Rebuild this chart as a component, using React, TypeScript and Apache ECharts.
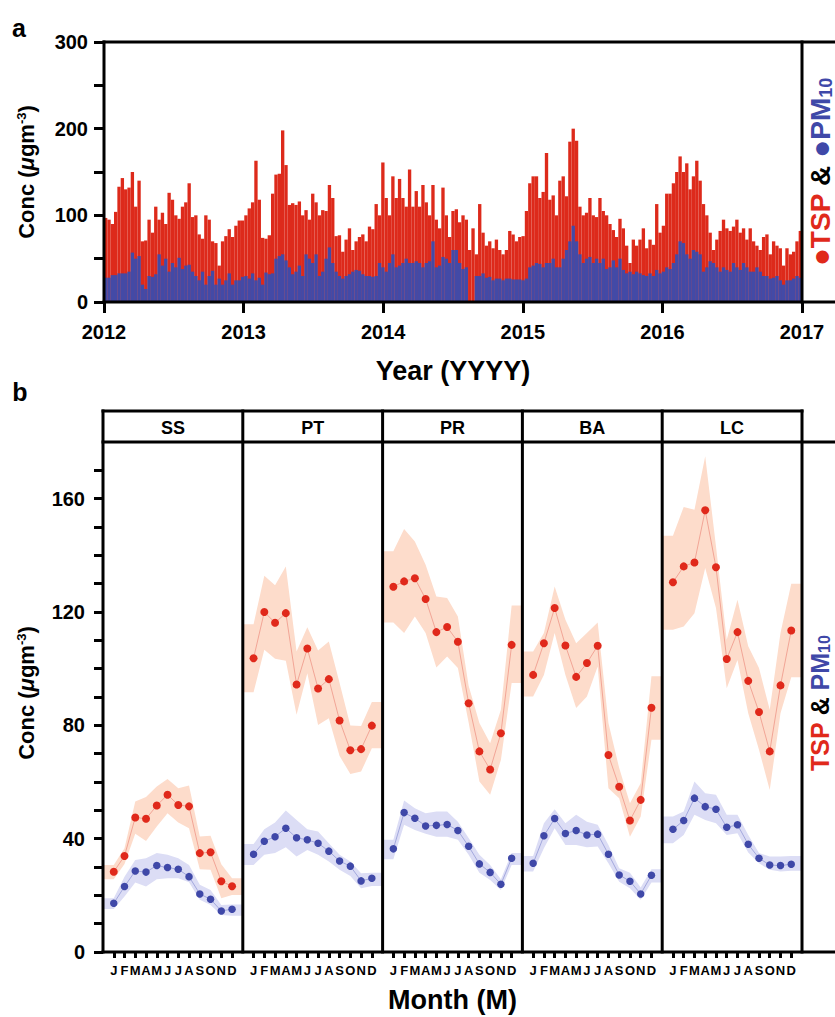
import React, { useEffect, useRef } from "react";
import * as echarts from "echarts";

// ---------- Panel a: TSP & PM10 time series (2012-2016), ~8.7-day samples ----------
const tspSeg1 = [
  97, 95, 90, 104, 133, 143, 130, 132, 150, 110,
  140, 70, 71, 95, 80, 110, 95, 103, 90, 126,
  118, 100, 96, 110, 115, 137, 98, 100, 78, 73,
  100, 95, 70, 68, 42, 70, 76, 84, 75, 88,
  94, 94, 100, 108, 115, 163, 118, 74, 73, 77,
  125, 147, 148, 198, 158, 112, 114, 112, 116, 100,
  106, 95, 125, 115, 100, 106, 105, 135, 120, 76,
  77, 58, 72, 85, 60, 70, 75, 78, 70, 87,
  84, 113, 100, 161, 120, 100, 145, 120, 142,
];
const tspSeg2 = [
  120, 110, 153, 110, 128, 110, 135, 115, 100, 135,
  95, 85, 132, 100, 75, 105, 107, 92, 100, 95,
  60, 85, 55, 113, 80, 65, 70, 62, 72, 60,
  55, 60, 82, 78, 70, 75, 76, 105, 137, 145,
  145, 120, 127, 172, 118, 123, 100, 140, 145, 122,
  185, 200, 186, 110, 100, 103, 120, 100, 98, 120,
  105, 100, 90, 83, 75, 96, 85, 65, 45, 72,
  65, 72, 85, 62, 72, 66, 113, 80, 88, 125,
  125, 137, 150, 168, 150, 160, 130, 145, 163, 140,
  113, 100, 80, 60, 72, 82, 95, 85, 82, 87,
  95, 80, 85, 72, 85, 70, 65, 60, 75, 78,
  55, 70, 65, 62, 42, 62, 55, 58, 70, 82,
];
const pm10Seg1 = [
  28, 28, 31, 31, 33, 33, 33, 35, 57, 50,
  53, 20, 15, 30, 29, 32, 55, 42, 50, 35,
  45, 40, 51, 38, 42, 43, 35, 30, 25, 35,
  20, 30, 36, 20, 27, 20, 25, 33, 20, 25,
  25, 29, 30, 27, 33, 25, 28, 20, 34, 32,
  33, 50, 53, 55, 48, 40, 32, 35, 42, 30,
  55, 50, 45, 55, 30, 35, 50, 63, 45, 35,
  30, 27, 30, 32, 35, 37, 36, 32, 30, 30,
  29, 30, 45, 40, 35, 45, 55, 40, 42,
];
const pm10Seg2 = [
  45, 50, 45, 45, 47, 45, 40, 45, 47, 70,
  40, 42, 52, 50, 45, 60, 60, 45, 38, 40,
  0, 0, 30, 30, 33, 28, 29, 25, 27, 27,
  25, 27, 27, 26, 26, 26, 25, 27, 40, 42,
  45, 44, 40, 45, 45, 50, 40, 40, 50, 60,
  70, 88, 70, 55, 45, 50, 52, 45, 50, 45,
  50, 38, 40, 48, 40, 50, 37, 33, 35, 32,
  35, 33, 31, 30, 33, 30, 37, 33, 35, 40,
  38, 45, 55, 70, 68, 55, 50, 60, 58, 55,
  35, 40, 47, 45, 40, 35, 40, 37, 35, 45,
  40, 37, 45, 40, 35, 35, 40, 35, 30, 30,
  27, 28, 30, 25, 20, 25, 25, 27, 30, 28,
];
const yearStart = 2012;
const yearEnd = 2017;

// ---------- Panel b: monthly means with bands ----------
const monthLetters = ["J", "F", "M", "A", "M", "J", "J", "A", "S", "O", "N", "D"];
const monthNums = [1, 2, 3, 4, 5, 6, 7, 8, 9, 10, 11, 12];
const siteNames = ["SS", "PT", "PR", "BA", "LC"];

const ssTsp = [28.3, 33.9, 47.5, 47.0, 51.7, 55.5, 51.9, 51.4, 34.9, 35.2, 25.0, 23.2];
const ssTspHi = [30.7, 36.6, 53.1, 54.7, 58.4, 61.1, 57.8, 58.8, 40.8, 41.0, 31.0, 26.0];
const ssTspLo = [25.7, 31.1, 41.7, 39.2, 44.3, 49.0, 45.7, 43.7, 29.2, 29.0, 19.0, 20.1];
const ssPm = [17.2, 23.1, 28.6, 28.2, 30.5, 29.8, 29.2, 26.6, 20.5, 18.6, 14.5, 15.1];
const ssPmHi = [19.0, 26.6, 32.5, 33.1, 34.9, 34.3, 33.1, 30.7, 23.7, 21.9, 16.6, 16.8];
const ssPmLo = [15.2, 19.6, 24.5, 23.1, 25.7, 26.0, 26.0, 24.6, 18.4, 16.6, 13.1, 12.8];

const ptTsp = [103.7, 120.0, 116.2, 119.6, 94.4, 107.1, 93.0, 96.3, 81.7, 71.2, 71.6, 79.9];
const ptTspHi = [115.7, 132.8, 129.4, 136.1, 106.1, 114.6, 106.4, 109.6, 94.9, 79.9, 79.8, 88.2];
const ptTspLo = [91.7, 106.7, 103.5, 102.8, 83.7, 98.4, 80.1, 82.5, 69.2, 62.8, 63.7, 71.9];
const ptPm = [34.5, 39.1, 40.7, 43.7, 40.3, 39.6, 38.4, 35.6, 32.1, 30.3, 25.1, 26.0];
const ptPmHi = [38.1, 43.3, 45.7, 49.9, 46.6, 43.3, 42.5, 38.4, 34.3, 31.9, 27.8, 28.0];
const ptPmLo = [30.7, 34.3, 34.9, 37.0, 33.7, 36.0, 34.3, 31.9, 29.0, 26.8, 22.5, 23.3];

const prTsp = [128.9, 130.8, 131.9, 124.6, 112.9, 114.7, 109.5, 87.8, 70.8, 64.4, 77.2, 108.4];
const prTspHi = [141.4, 149.3, 144.9, 136.7, 125.5, 124.9, 118.4, 94.0, 80.8, 73.7, 85.5, 122.3];
const prTspLo = [116.3, 112.6, 118.4, 112.6, 100.4, 104.3, 100.2, 81.0, 60.2, 55.5, 67.8, 94.9];
const prPm = [36.4, 49.2, 47.2, 44.5, 44.7, 45.0, 42.9, 37.3, 31.1, 28.1, 23.9, 33.1];
const prPmHi = [39.6, 53.5, 50.7, 49.0, 49.6, 49.6, 46.0, 40.2, 34.3, 30.7, 25.7, 34.9];
const prPmLo = [32.7, 44.9, 43.1, 41.7, 40.7, 40.7, 39.6, 34.3, 28.0, 25.4, 21.9, 30.7];

const baTsp = [97.8, 109.0, 121.4, 108.2, 97.1, 102.0, 108.1, 69.5, 58.3, 46.4, 53.7, 86.2];
const baTspHi = [106.1, 112.6, 129.0, 117.3, 109.0, 112.6, 116.3, 80.8, 64.9, 52.5, 59.6, 97.3];
const baTspLo = [90.2, 97.8, 112.6, 97.8, 86.1, 90.2, 100.8, 57.8, 54.3, 40.7, 47.8, 74.9];
const baPm = [31.3, 41.0, 47.1, 41.8, 42.9, 41.3, 41.6, 34.5, 27.2, 25.0, 20.5, 27.1];
const baPmHi = [33.9, 45.4, 50.4, 45.4, 48.4, 46.0, 44.9, 37.8, 29.6, 28.0, 22.8, 29.2];
const baPmLo = [28.4, 36.6, 43.7, 37.8, 37.8, 37.0, 37.2, 31.3, 24.8, 22.5, 18.4, 24.5];

const lcTsp = [130.5, 136.1, 137.5, 155.9, 135.8, 103.4, 112.9, 95.7, 84.7, 70.8, 94.1, 113.5];
const lcTspHi = [146.9, 157.1, 156.1, 175.0, 143.2, 110.2, 124.3, 107.9, 100.2, 85.5, 112.6, 130.0];
const lcTspLo = [113.7, 114.9, 119.6, 135.5, 121.4, 93.1, 103.1, 84.3, 71.4, 57.2, 84.3, 97.0];
const lcPm = [43.3, 46.4, 54.3, 51.3, 50.4, 44.0, 44.9, 38.0, 33.1, 30.7, 30.5, 31.0];
const lcPmHi = [47.8, 49.6, 60.2, 56.0, 55.5, 48.4, 48.4, 41.3, 34.9, 33.7, 33.7, 33.9];
const lcPmLo = [38.4, 41.3, 48.4, 46.6, 45.4, 41.3, 41.9, 35.1, 31.3, 29.0, 28.4, 28.7];

const yTicksA = [0, 50, 100, 150, 200, 250, 300];
const yLabelsB = [0, 40, 80, 120, 160];
const yTicksB = [0, 10, 20, 30, 40, 50, 60, 70, 80, 90, 100, 110, 120, 130, 140, 150, 160, 170];

// ---------- styling ----------
const FONT = '"Liberation Sans", Arial, Helvetica, sans-serif';
const RED_BAR = "#DD2A1B";
const BLUE_BAR = "#434AA6";
const RED_PT = "#E0291B";
const BLUE_PT = "#3F48A8";
const RED_LINE = "#F2A596";
const BLUE_LINE = "#A3A8DD";
const RED_BAND = "#FDDCCB";
const BLUE_BAND = "#DCDDF5";

const W = 835;
const H = 1017;
const A = { left: 104, top: 42, right: 802, bottom: 302 };
const B = { left: 103, stripTop: 411, top: 442, right: 802, bottom: 952 };
const PW = (B.right - B.left) / 5;
const X_MIN = 0;
const X_MAX = 13;

export default function App() {
  const ref = useRef<HTMLDivElement>(null);

  useEffect(() => {
    if (!ref.current) return;
    const chart = echarts.init(ref.current, undefined, { renderer: "svg", width: W, height: H });

    const tsp = [...tspSeg1, ...tspSeg2];
    const pm10 = [...pm10Seg1, ...pm10Seg2];
    const cats = tsp.map((_, i) => String(i));

    const sites = [
      { tsp: ssTsp, tspHi: ssTspHi, tspLo: ssTspLo, pm: ssPm, pmHi: ssPmHi, pmLo: ssPmLo },
      { tsp: ptTsp, tspHi: ptTspHi, tspLo: ptTspLo, pm: ptPm, pmHi: ptPmHi, pmLo: ptPmLo },
      { tsp: prTsp, tspHi: prTspHi, tspLo: prTspLo, pm: prPm, pmHi: prPmHi, pmLo: prPmLo },
      { tsp: baTsp, tspHi: baTspHi, tspLo: baTspLo, pm: baPm, pmHi: baPmHi, pmLo: baPmLo },
      { tsp: lcTsp, tspHi: lcTspHi, tspLo: lcTspLo, pm: lcPm, pmHi: lcPmHi, pmLo: lcPmLo },
    ];

    const grids: any[] = [
      { left: A.left, top: A.top, width: A.right - A.left, height: A.bottom - A.top },
    ];
    const xAxes: any[] = [
      { type: "category", gridIndex: 0, data: cats, show: false, boundaryGap: true },
      {
        type: "value", gridIndex: 0, min: yearStart, max: yearEnd, interval: 1, position: "bottom",
        axisLine: { show: false },
        axisTick: { show: true, length: 11, lineStyle: { color: "#000", width: 3 } },
        axisLabel: {
          show: true, color: "#000", fontFamily: FONT, fontWeight: "bold", fontSize: 20, margin: 20,
          formatter: (v: number) => String(v),
        },
        splitLine: { show: false },
      },
    ];
    const yAxes: any[] = [
      {
        type: "value", gridIndex: 0, min: 0, max: 300, interval: 50,
        axisLine: { show: false },
        axisTick: { show: true, length: 10, lineStyle: { color: "#000", width: 3 } },
        axisLabel: {
          color: "#000", fontFamily: FONT, fontWeight: "bold", fontSize: 20, margin: 16,
          formatter: (v: number) => (yTicksA.includes(v) && v % 100 === 0 ? String(v) : ""),
        },
        splitLine: { show: false },
      },
    ];
    const series: any[] = [
      {
        type: "bar", name: "TSP", xAxisIndex: 0, yAxisIndex: 0, data: tsp,
        barCategoryGap: "0%", barGap: "-100%", itemStyle: { color: RED_BAR }, silent: true,
      },
      {
        type: "bar", name: "PM10", xAxisIndex: 0, yAxisIndex: 0, data: pm10,
        barCategoryGap: "0%", barGap: "-100%", itemStyle: { color: BLUE_BAR }, silent: true,
      },
    ];

    const bandX = [X_MIN, ...monthNums, X_MAX];
    const extend = (arr: number[]) => [arr[0], ...arr, arr[arr.length - 1]];

    const bandSeries = (xi: number, yi: number, lo: number[], hi: number[], color: string) => {
      const l = extend(lo);
      const h = extend(hi);
      return {
        type: "custom", xAxisIndex: xi, yAxisIndex: yi, silent: true, z: 1, clip: false,
        data: [[X_MIN, l[0]]],
        renderItem: (_params: any, api: any) => {
          const top = bandX.map((x, i) => api.coord([x, h[i]]));
          const bottom = bandX.map((x, i) => api.coord([x, l[i]])).reverse();
          return { type: "polygon", shape: { points: [...top, ...bottom] }, style: { fill: color } };
        },
      };
    };

    sites.forEach((s, k) => {
      const gi = k + 1;
      const xi = k + 2;
      const yi = k + 1;
      grids.push({ left: B.left + k * PW, top: B.top, width: PW, height: B.bottom - B.top });
      xAxes.push({
        type: "value", gridIndex: gi, min: X_MIN, max: X_MAX,
        axisLine: { show: false },
        axisTick: { show: true, length: 6, customValues: monthNums, lineStyle: { color: "#000", width: 3 } },
        axisLabel: {
          show: true, customValues: monthNums, color: "#000", fontFamily: FONT, fontWeight: "bold",
          fontSize: 13, margin: 12, formatter: (v: number) => monthLetters[Math.round(v) - 1] || "",
        },
        splitLine: { show: false },
      });
      yAxes.push(
        k === 0
          ? {
              type: "value", gridIndex: gi, min: 0, max: 180,
              axisLine: { show: false },
              axisTick: { show: true, length: 9, customValues: yTicksB, lineStyle: { color: "#000", width: 3 } },
              axisLabel: {
                show: true, customValues: yLabelsB, color: "#000", fontFamily: FONT,
                fontWeight: "bold", fontSize: 20, margin: 18,
              },
              splitLine: { show: false },
            }
          : { type: "value", gridIndex: gi, min: 0, max: 180, show: false, splitLine: { show: false } }
      );

      series.push(bandSeries(xi, yi, s.tspLo, s.tspHi, RED_BAND));
      series.push(bandSeries(xi, yi, s.pmLo, s.pmHi, BLUE_BAND));

      series.push({
        type: "line", xAxisIndex: xi, yAxisIndex: yi, silent: true, z: 3,
        data: monthNums.map((m, i) => [m, s.tsp[i]]),
        symbol: "circle", symbolSize: 8, itemStyle: { color: RED_PT },
        lineStyle: { color: RED_LINE, width: 1 },
      });
      series.push({
        type: "line", xAxisIndex: xi, yAxisIndex: yi, silent: true, z: 3,
        data: monthNums.map((m, i) => [m, s.pm[i]]),
        symbol: "circle", symbolSize: 7.5, itemStyle: { color: BLUE_PT },
        lineStyle: { color: BLUE_LINE, width: 1 },
      });
    });

    const lineStyle = { stroke: "#000", lineWidth: 3, lineCap: "square" };
    const ln = (x1: number, y1: number, x2: number, y2: number) => ({
      type: "line", z: 100, silent: true, shape: { x1, y1, x2, y2 }, style: lineStyle,
    });
    const graphics: any[] = [
      ln(A.left, A.top, W, A.top),
      ln(A.left, A.bottom, W, A.bottom),
      ln(A.left, A.top, A.left, A.bottom),
      ln(A.right, A.top, A.right, A.bottom),
      ln(B.left, B.stripTop, B.right, B.stripTop),
      ln(B.left, B.top, W, B.top),
      ln(B.left, B.bottom, W, B.bottom),
    ];
    for (let k = 0; k <= 5; k++) {
      const x = B.left + k * PW;
      graphics.push(ln(x, B.stripTop, x, B.bottom));
    }
    siteNames.forEach((nm, k) => {
      graphics.push({
        type: "text", z: 101, silent: true, x: B.left + (k + 0.5) * PW, y: (B.stripTop + B.top) / 2 + 1,
        style: { text: nm, fill: "#000", fontFamily: FONT, fontWeight: "bold", fontSize: 18, align: "center", verticalAlign: "middle" },
      });
    });

    const txt = (text: string, x: number, y: number, size: number) => ({
      type: "text", z: 101, silent: true, x, y,
      style: { text, fill: "#000", fontFamily: FONT, fontWeight: "bold", fontSize: size, align: "center", verticalAlign: "middle" },
    });

    graphics.push(txt("a", 19, 28, 25));
    graphics.push(txt("b", 20, 392, 25));
    graphics.push(txt("Year (YYYY)", (A.left + A.right) / 2, 371, 27));
    graphics.push(txt("Month (M)", (B.left + B.right) / 2, 1000, 27));

    const concRich = {
      n: { fontFamily: FONT, fontWeight: "bold", fontSize: 22, fill: "#000" },
      mu: { fontFamily: FONT, fontWeight: "bold", fontStyle: "italic", fontSize: 22, fill: "#000" },
      sup: { fontFamily: FONT, fontWeight: "bold", fontSize: 13, fill: "#000", verticalAlign: "top" },
    };
    const concText = "{n|Conc (}{mu|μ}{n|gm}{sup|-3}{n|)}";
    [172, 693].forEach((cy) => {
      graphics.push({
        type: "text", z: 101, silent: true, x: 26, y: cy, rotation: Math.PI / 2,
        style: { text: concText, rich: concRich, align: "center", verticalAlign: "middle", fontFamily: FONT, fontSize: 22, fontWeight: "bold" },
      });
    });

    const legRichA = {
      rd: { fontFamily: FONT, fontSize: 30, fontWeight: "bold", fill: RED_PT },
      r: { fontFamily: FONT, fontSize: 28, fontWeight: "bold", fill: RED_PT },
      k: { fontFamily: FONT, fontSize: 28, fontWeight: "bold", fill: "#000" },
      bd: { fontFamily: FONT, fontSize: 30, fontWeight: "bold", fill: BLUE_PT },
      b: { fontFamily: FONT, fontSize: 28, fontWeight: "bold", fill: BLUE_PT },
      bs: { fontFamily: FONT, fontSize: 18, fontWeight: "bold", fill: BLUE_PT, verticalAlign: "bottom" },
    };
    const legRichB = {
      r: { fontFamily: FONT, fontSize: 25, fontWeight: "bold", fill: RED_PT },
      k: { fontFamily: FONT, fontSize: 25, fontWeight: "bold", fill: "#000" },
      b: { fontFamily: FONT, fontSize: 25, fontWeight: "bold", fill: BLUE_PT },
      bs: { fontFamily: FONT, fontSize: 16, fontWeight: "bold", fill: BLUE_PT, verticalAlign: "bottom" },
    };
    graphics.push({
      type: "text", z: 101, silent: true, x: 820, y: 172, rotation: Math.PI / 2,
      style: { text: "{rd|●}{r|TSP} {k|&} {bd|●}{b|PM}{bs|10}", rich: legRichA, align: "center", verticalAlign: "middle", fontFamily: FONT, fontSize: 28 },
    });
    graphics.push({
      type: "text", z: 101, silent: true, x: 820, y: 703, rotation: Math.PI / 2,
      style: { text: "{r|TSP} {k|&} {b|PM}{bs|10}", rich: legRichB, align: "center", verticalAlign: "middle", fontFamily: FONT, fontSize: 25 },
    });

    chart.setOption({
      animation: false,
      backgroundColor: "#ffffff",
      textStyle: { fontFamily: FONT },
      grid: grids,
      xAxis: xAxes,
      yAxis: yAxes,
      series,
      graphic: { elements: graphics },
    });

    return () => chart.dispose();
  }, []);

  return (
    <div
      ref={ref}
      style={{ position: "absolute", left: 0, top: 0, width: W, height: H, background: "#fff" }}
    />
  );
}
